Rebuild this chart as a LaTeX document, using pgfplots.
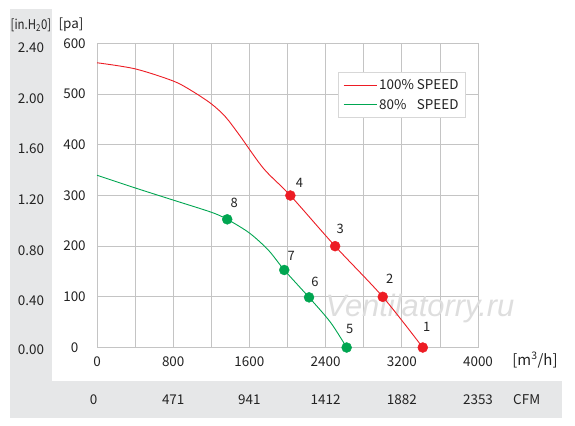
\documentclass[border=0pt]{standalone}
\usepackage{fontspec}
\setmainfont{Noto Sans CJK SC}
\newfontfamily\wmfont{Liberation Sans}
\usepackage{graphicx}
\usepackage{pgfplots}
\pgfplotsset{compat=1.18}
\definecolor{cred}{RGB}{237,28,36}
\definecolor{cgreen}{RGB}{0,166,81}
\definecolor{bandgray}{RGB}{230,231,232}
\definecolor{gridgray}{RGB}{196,196,196}
\definecolor{txt}{RGB}{35,35,35}
\definecolor{leggray}{RGB}{215,215,215}
\begin{document}
\begin{tikzpicture}[x=1bp,y=1bp]
\path[use as bounding box, fill=white] (0,0) rectangle (575,-425);
\fill[bandgray] (10,-9) rectangle (51.7,-417.7);
\fill[bandgray] (10,-381.3) rectangle (561.7,-417.7);
\begin{axis}[
  at={(97bp,-347.5bp)}, anchor=south west,
  scale only axis, width=381bp, height=304bp,
  xmin=0, xmax=4000, ymin=0, ymax=600,
  xtick={0,800,...,4000}, minor xtick={400,1200,...,3600},
  ytick={0,100,...,600},
  grid=both,
  major grid style={gridgray, line width=0.8bp},
  minor grid style={gridgray, line width=0.8bp},
  axis line style={gridgray, line width=0.8bp},
  tick style={draw=none},
  clip=false,
  /pgf/number format/assume math mode=true,
  /pgf/number format/1000 sep={},
  tick label style={font=\fontsize{13.5}{16}\selectfont, text=txt},
  xticklabel style={anchor=center, yshift=-14.2bp},
  yticklabel style={anchor=center, xshift=-22.5bp},
  legend style={at={(0.633,0.906)}, anchor=north west, draw=leggray, line width=0.8bp,
    fill=white, font=\fontsize{13.5}{15}\selectfont, text=txt,
    inner xsep=4.5bp, inner ysep=5bp, row sep=4bp, cells={anchor=west}},
  legend image code/.code={\draw[#1, line width=1.1bp] (0bp,0bp) -- (33bp,0bp);},
]
\node[font=\fontsize{31}{31}\selectfont\wmfont\itshape, text=black!13] at (axis cs:3391,76) {Ventilatorry.ru};
\addplot[cred, line width=0.9bp, smooth, tension=0.5] coordinates {
  (0,562) (400,550) (800,526) (1000,506) (1200,481) (1350,455) (1500,418)
  (1750,353) (2030,300) (2500,200) (3000,100) (3420,0)};
\addlegendentry{100\% SPEED}
\addplot[cgreen, line width=0.9bp, smooth, tension=0.5] coordinates {
  (0,340) (400,315) (800,291) (1200,267) (1367,253) (1600,226)
  (1800,192) (1966,153) (2226,99) (2450,50) (2621,0)};
\addlegendentry{80\%\hphantom{0} SPEED}
\addplot[only marks, mark=*, mark size=5bp, color=cred, forget plot] coordinates {
  (2030,300) (2500,200) (3000,100) (3420,0)};
\addplot[only marks, mark=*, mark size=5bp, color=cgreen, forget plot] coordinates {
  (1367,253) (1966,153) (2226,99) (2621,0)};
\begin{scope}[every node/.style={font=\fontsize{13}{15}\selectfont, text=txt}]
\node[xshift=4bp, yshift=21bp] at (axis cs:3420,0) {1};
\node[xshift=7bp, yshift=18bp] at (axis cs:3000,100) {2};
\node[xshift=5bp, yshift=17bp] at (axis cs:2500,200) {3};
\node[xshift=9bp, yshift=13bp] at (axis cs:2030,300) {4};
\node[xshift=3bp, yshift=19bp] at (axis cs:2621,0) {5};
\node[xshift=6bp, yshift=15bp] at (axis cs:2226,99) {6};
\node[xshift=7bp, yshift=14bp] at (axis cs:1966,153) {7};
\node[xshift=7bp, yshift=16bp] at (axis cs:1367,253) {8};
\end{scope}
\end{axis}
\begin{scope}[every node/.style={font=\fontsize{13.5}{16}\selectfont, text=txt}]
\node at (31,-25) {\scalebox{0.85}[1]{[in.H\textsubscript{2}0]}};
\node at (71,-25) {[pa]};
\node at (31,-47.5) {2.40};
\node at (31,-98.2) {2.00};
\node at (31,-148.8) {1.60};
\node at (31,-199.5) {1.20};
\node at (31,-250.2) {0.80};
\node at (31,-300.8) {0.40};
\node at (31,-350) {0.00};
\node at (93.5,-400) {0};
\node at (173.2,-400) {471};
\node at (249.4,-400) {941};
\node at (325.6,-400) {1412};
\node at (401.8,-400) {1882};
\node at (478,-400) {2353};
\node at (526.7,-400) {CFM};
\node[font=\fontsize{15}{17}\selectfont] at (535,-360) {[m\textsuperscript{3}/h]};
\end{scope}
\end{tikzpicture}
\end{document}
